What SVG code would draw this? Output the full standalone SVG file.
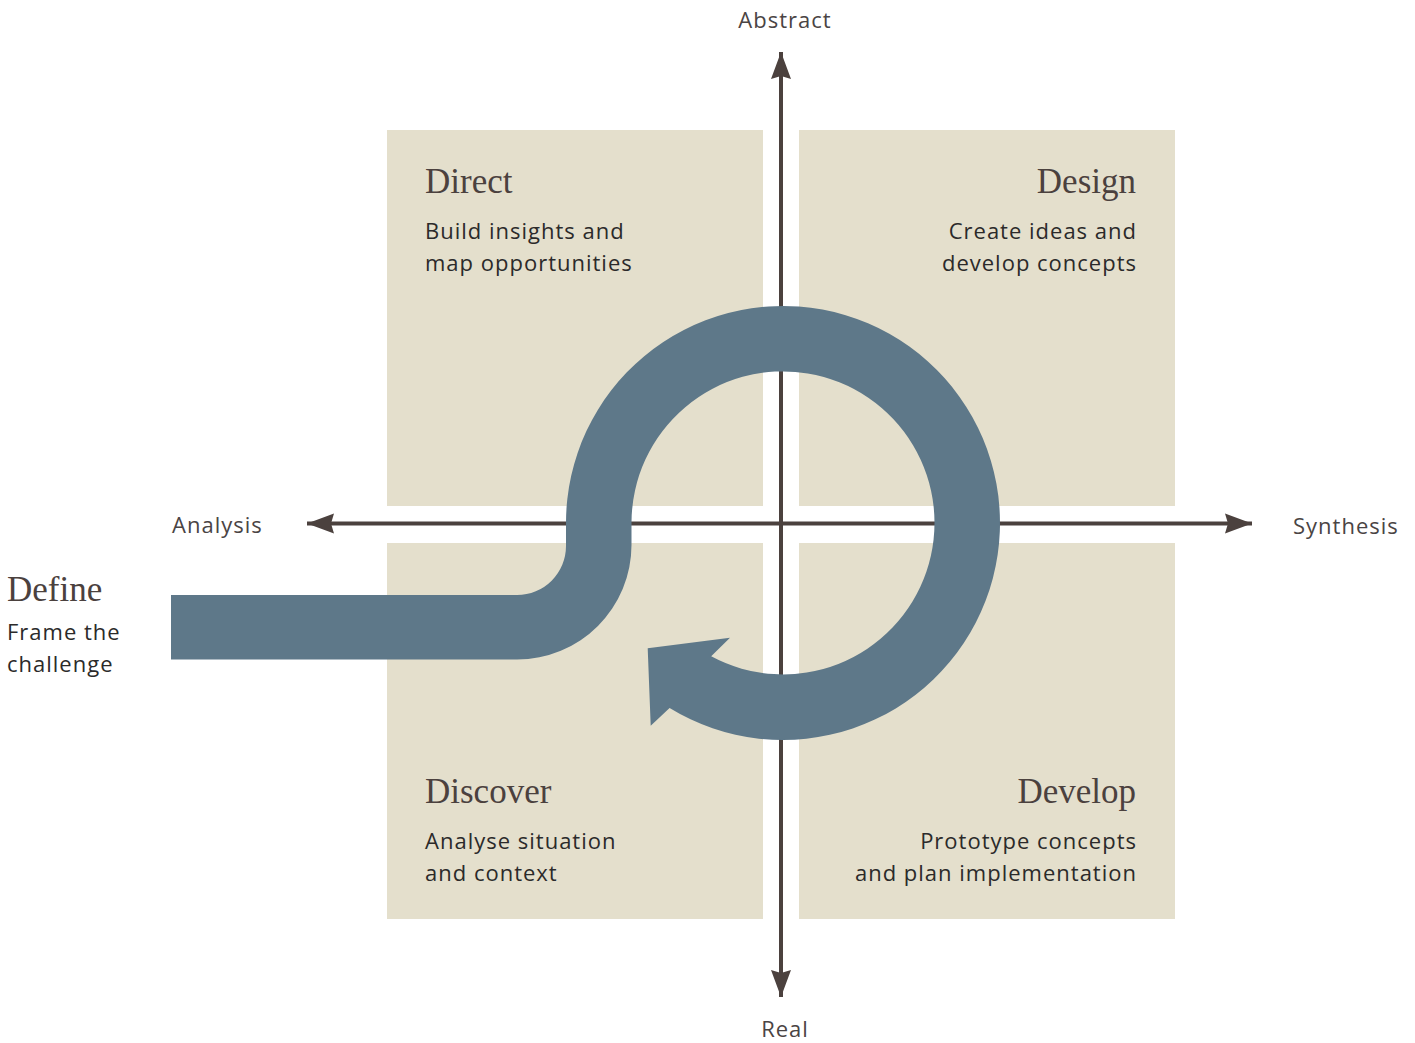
<svg xmlns="http://www.w3.org/2000/svg" width="1415" height="1043" viewBox="0 0 1415 1043">
<style>
.quad{fill:#e4dfcc}
.axis{stroke:#4b413e;stroke-width:4;fill:none}
.title{font-family:"Liberation Serif","Times New Roman",serif;font-size:35px;fill:#4b413e}
.body{font-family:"Open Sans","Liberation Sans",sans-serif;font-size:22px;letter-spacing:1px;fill:#2b2a2a}
.ax{font-family:"Open Sans","Liberation Sans",sans-serif;font-size:22px;letter-spacing:1px;fill:#4a4444}
.band{fill:#5e7889}
</style>
<defs>
<marker id="ah" viewBox="-28 -11 29 22" markerWidth="29" markerHeight="22" refX="0" refY="0" orient="auto-start-reverse" markerUnits="userSpaceOnUse">
<path d="M0,0 L-27,-10 L-24,0 L-27,10 Z" fill="#4b413e"/>
</marker>
</defs>
<rect width="1415" height="1043" fill="#ffffff"/>
<g id="quadrant-direct">
<rect class="quad" x="387" y="130" width="376" height="376"/>
<text class="title" x="425" y="193">Direct</text>
<text class="body" x="425" y="239">Build insights and</text>
<text class="body" x="425" y="271">map opportunities</text>
</g>
<g id="quadrant-design">
<rect class="quad" x="799" y="130" width="376" height="376"/>
<text class="title" x="1136" y="193" text-anchor="end">Design</text>
<text class="body" x="1137" y="239" text-anchor="end">Create ideas and</text>
<text class="body" x="1137" y="271" text-anchor="end">develop concepts</text>
</g>
<g id="quadrant-discover">
<rect class="quad" x="387" y="543" width="376" height="376"/>
<text class="title" x="425" y="803">Discover</text>
<text class="body" x="425" y="849">Analyse situation</text>
<text class="body" x="425" y="881">and context</text>
</g>
<g id="quadrant-develop">
<rect class="quad" x="799" y="543" width="376" height="376"/>
<text class="title" x="1136" y="803" text-anchor="end">Develop</text>
<text class="body" x="1137" y="849" text-anchor="end">Prototype concepts</text>
<text class="body" x="1137" y="881" text-anchor="end">and plan implementation</text>
</g>
<g id="connectors">
<line class="axis" x1="781" y1="997" x2="781" y2="52" marker-start="url(#ah)" marker-end="url(#ah)"/>
<line class="axis" x1="307" y1="523.5" x2="1252" y2="523.5" marker-start="url(#ah)" marker-end="url(#ah)"/>
</g>
<g id="axis-labels">
<text class="ax" x="785" y="28" text-anchor="middle">Abstract</text>
<text class="ax" x="785" y="1037" text-anchor="middle">Real</text>
<text class="ax" x="172" y="533">Analysis</text>
<text class="ax" x="1293" y="534">Synthesis</text>
</g>
<g id="define">
<text class="title" x="7" y="601">Define</text>
<text class="body" x="7" y="640">Frame the</text>
<text class="body" x="7" y="672">challenge</text>
</g>
<g id="process-loop">
<path class="band" d="M171,595 L517,595 A49,49 0 0 0 566,546 L566,523 A217,217 0 1 1 669.6,708 L650.7,725.7 L647.7,648.3 L730,637.7 L711.2,656.3 A151.5,151.5 0 1 0 631.5,523 L631.5,545 A114.5,114.5 0 0 1 517,659.5 L171,659.5 Z"/>
</g>
</svg>
